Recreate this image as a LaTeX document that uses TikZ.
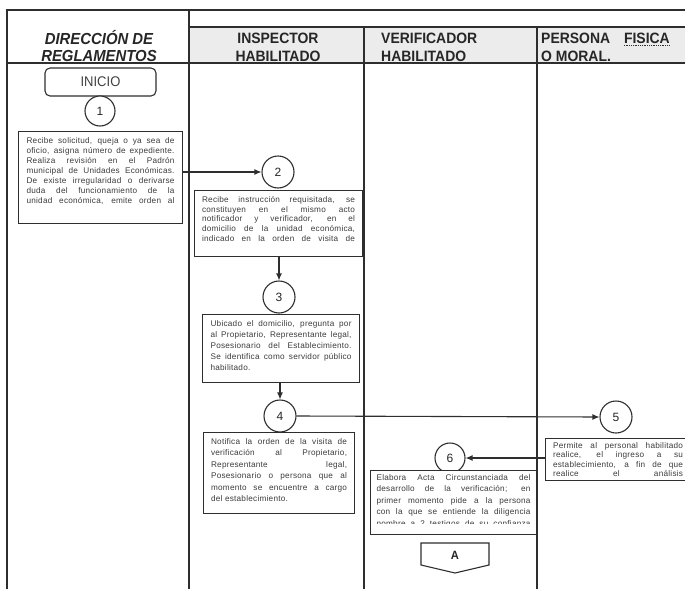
\documentclass[tikz,border=0pt]{standalone}
\usepackage{fontspec}
\setmainfont{Liberation Sans}
\newfontfamily\hdrfont[FakeStretch=0.93]{Liberation Sans}
\newfontfamily\bodyfont[LetterSpace=3]{Liberation Sans}
\usetikzlibrary{arrows.meta}
\definecolor{ln}{HTML}{2E2E2E}
\definecolor{hdrfill}{HTML}{ECECEC}
\definecolor{txt}{HTML}{3C3C3C}
\begin{document}
\begin{tikzpicture}[x=1pt,y=-1pt,
  gridline/.style={draw=ln, line width=1.2pt},
  stepbox/.style={draw=ln, line width=1.1pt, fill=white, inner sep=0pt, anchor=north west},
  bodytxt/.style={anchor=north, inner xsep=0pt, text=txt, align=justify,
    execute at begin node={\tolerance=10000\hbadness=10000\hyphenpenalty=10000\relax}},
  num/.style={circle, draw=ln, line width=1.1pt, fill=white, minimum size=32pt, inner sep=0pt,
    font=\fontsize{12}{14}\selectfont, text=black!85},
  arr/.style={draw=ln, line width=1.1pt, -{Latex[length=7pt,width=6pt]}},
  hdr/.style={font=\hdrfont\bfseries\fontsize{15}{17}\selectfont, text=black!85, inner sep=0pt, anchor=base},
  hdri/.style={hdr, font=\hdrfont\bfseries\itshape\fontsize{16}{17}\selectfont},
]
\useasboundingbox (0,0) rectangle (685,589);
\clip (0,0) rectangle (685,589);

% grid of the swimlanes
\fill[hdrfill] (189,27) rectangle (685,63);
\draw[gridline] (7,589) -- (7,10) -- (685,10);
\draw[gridline] (189,10) -- (189,589);
\draw[gridline] (189,27) -- (685,27);
\draw[gridline] (7,63) -- (685,63);
\draw[gridline] (364,27) -- (364,589);
\draw[gridline] (537,27) -- (537,589);

% headers
\node[hdri] (h1a) at (99,44) {DIRECCIÓN DE};
\node[hdri] (h1b) at (99,61) {REGLAMENTOS};
\node[hdr] (h2a) at (278,43) {INSPECTOR};
\node[hdr] (h2b) at (278,61) {HABILITADO};
\node[hdr, anchor=base west] (h3a) at (381,43) {VERIFICADOR};
\node[hdr, anchor=base west] (h3b) at (381,61) {HABILITADO};
\node[hdr, anchor=base west] (h4a) at (541,43) {PERSONA};
\node[hdr, anchor=base east] (h4c) at (670,43) {FISICA};
\node[hdr, anchor=base west] (h4b) at (541,61) {O MORAL.};
\draw[ln, densely dotted, line width=0.8pt] ([yshift=-2pt]h4c.base west) -- ([yshift=-2pt]h4c.base east);

% start
\node[draw=ln, line width=1.1pt, rounded corners=5pt, minimum width=111pt, minimum height=28pt,
  inner sep=0pt, font=\hdrfont\fontsize{14}{15}\selectfont, text=black!75] (inicio) at (100.5,82) {INICIO};
\node[num, minimum size=30pt] (c1) at (100,111) {1};

% step 1
\node[stepbox, minimum width=164pt, minimum height=92pt] (b1) at (18,131) {};
\node[bodytxt, text width=148pt, inner ysep=6pt, font=\bodyfont\fontsize{8.2}{10}\selectfont] (b1t) at (b1.north)
{Recibe solicitud, queja o ya sea de\linebreak
oficio, asigna número de expediente.\linebreak
Realiza revisión en el Padrón\linebreak
municipal de Unidades Económicas.\linebreak
De existe irregularidad o derivarse\linebreak
duda del funcionamiento de la\linebreak
unidad económica, emite orden al{\parfillskip=0pt\par}};

% step 2
\node[num] (c2) at (278,172) {2};
\node[stepbox, minimum width=168pt, minimum height=66pt] (b2) at (194,190) {};
\node[bodytxt, text width=153pt, inner ysep=6pt, font=\bodyfont\fontsize{8.2}{9.8}\selectfont] (b2t) at (b2.north)
{Recibe instrucción requisitada, se\linebreak
constituyen en el mismo acto\linebreak
notificador y verificador, en el\linebreak
domicilio de la unidad económica,\linebreak
indicado en la orden de visita de{\parfillskip=0pt\par}};

% step 3
\node[num] (c3) at (279,297) {3};
\node[stepbox, minimum width=157pt, minimum height=68pt] (b3) at (202,314) {};
\node[bodytxt, text width=141pt, inner ysep=6pt, font=\bodyfont\fontsize{8.2}{11}\selectfont] (b3t) at (b3.north)
{Ubicado el domicilio, pregunta por\linebreak
al Propietario, Representante legal,\linebreak
Posesionario del Establecimiento.\linebreak
Se identifica como servidor público\linebreak
habilitado.};

% step 4
\node[num] (c4) at (280,416) {4};
\node[stepbox, minimum width=151pt, minimum height=81pt] (b4) at (203,432) {};
\node[bodytxt, text width=136pt, inner ysep=6pt, font=\bodyfont\fontsize{8.2}{11.5}\selectfont] (b4t) at (b4.north)
{Notifica la orden de la visita de\linebreak
verificación al Propietario,\linebreak
Representante legal,\linebreak
Posesionario o persona que al\linebreak
momento se encuentre a cargo\linebreak
del establecimiento.};

% step 5
\node[num] (c5) at (616,417) {5};
\node[stepbox, minimum width=145pt, minimum height=42pt] (b5) at (545,438) {};
\node[bodytxt, text width=130pt, inner ysep=4pt, font=\bodyfont\fontsize{8.2}{9.6}\selectfont] (b5t) at (b5.north)
{Permite al personal habilitado\linebreak
realice, el ingreso a su\linebreak
establecimiento, a fin de que\linebreak
realice el análisis{\parfillskip=0pt\par}};

% step 6
\node[num, minimum size=30pt] (c6) at (450,458) {6};
\node[stepbox, minimum width=166pt, minimum height=64pt] (b6) at (370,470) {};
\begin{scope}
\clip (370,470) rectangle (536,523.6);
\node[bodytxt, text width=154pt, inner ysep=4pt, font=\bodyfont\fontsize{8.2}{11.5}\selectfont] (b6t) at (b6.north)
{Elabora Acta Circunstanciada del\linebreak
desarrollo de la verificación; en\linebreak
primer momento pide a la persona\linebreak
con la que se entiende la diligencia\linebreak
nombre a 2 testigos de su confianza{\parfillskip=0pt\par}};
\end{scope}

% off-page connector
\draw[draw=ln, line width=1.1pt, fill=white] (421,543) -- (489,543) -- (489,565) -- (455,573) -- (421,565) -- cycle;
\node[font=\hdrfont\bfseries\fontsize{12}{14}\selectfont, text=black!85] (conA) at (455,555) {A};

% connectors
\draw[arr] (b1.east |- c2.west) -- (c2.west);
\draw[arr] (b2.south -| c3.north) -- (c3.north);
\draw[arr] (b3.south -| c4.north) -- (c4.north);
\draw[arr] (c4.east) -- (c5.west);
\draw[arr] (b5.west |- c6.east) -- (c6.east);
\end{tikzpicture}
\end{document}
